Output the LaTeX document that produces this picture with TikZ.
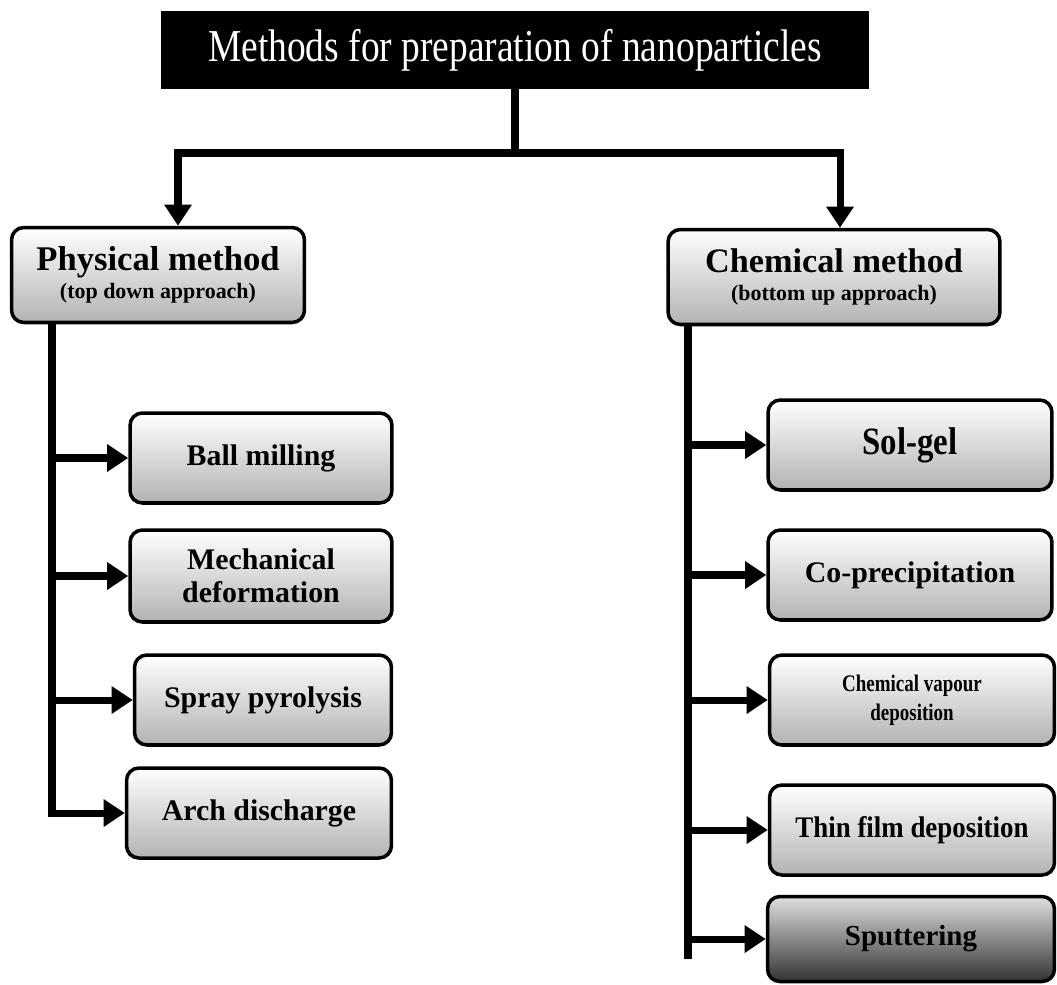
\documentclass[tikz,border=0pt]{standalone}
\usepackage{fontspec}
\setmainfont{Liberation Serif}
\usetikzlibrary{arrows.meta}
\newcommand\hsq[2]{\scalebox{#1}[1]{#2}}
\begin{document}
\begin{tikzpicture}[x=0.02cm,y=-0.02cm,
  conn/.style={line width=4pt,line cap=rect},
  arr/.style={line width=4pt,-{Triangle[length=12pt,width=15pt]}},
  box/.style={draw,line width=2pt,rounded corners=7pt,top color=white,bottom color=gray!60,
    inner sep=0pt,align=center},
  darkbox/.style={box,top color=gray!25,bottom color=black!80},
  titlebox/.style={draw,line width=2pt,fill=black,text=white,inner sep=0pt}
]
\fill[white] (0,0) rectangle (1057,984);
\useasboundingbox (0,0) rectangle (1057,984);

\node[titlebox,minimum width=14.1cm,minimum height=1.5cm,font=\fontsize{26}{30}\selectfont] (title) at (515,50)
  {\hsq{0.82}{Methods for preparation of nanoparticles}};

\node[box,minimum width=5.86cm,minimum height=1.9cm,font=\bfseries\fontsize{12.5}{16}\selectfont] (phys) at (158,275)
  {{\fontsize{19.7}{16}\selectfont Physical method}\\ (top down approach)};
\node[box,minimum width=6.64cm,minimum height=1.9cm,font=\bfseries\fontsize{12.5}{16}\selectfont] (chem) at (834,277)
  {{\fontsize{19.5}{16}\selectfont Chemical method}\\ (bottom up approach)};

\node[box,minimum width=5.24cm,minimum height=1.8cm,font=\bfseries\fontsize{17}{19}\selectfont] (ball) at (261,458)
  {Ball milling};
\node[box,minimum width=5.24cm,minimum height=1.84cm,font=\bfseries\fontsize{17}{18.5}\selectfont] (mech) at (261,576)
  {Mechanical\\ deformation};
\node[box,minimum width=5.14cm,minimum height=1.8cm,font=\bfseries\fontsize{17}{19}\selectfont] (spray) at (263,700)
  {Spray pyrolysis};
\node[box,minimum width=5.3cm,minimum height=1.8cm,font=\bfseries\fontsize{17}{19}\selectfont] (arch) at (259,813)
  {Arch discharge};

\node[box,minimum width=5.68cm,minimum height=1.8cm,font=\bfseries\fontsize{22}{24}\selectfont] (sol) at (910,445)
  {\hsq{0.85}{Sol-gel}};
\node[box,minimum width=5.68cm,minimum height=1.8cm,font=\bfseries\fontsize{17}{19}\selectfont] (co) at (910,575)
  {Co-precipitation};
\node[box,minimum width=5.7cm,minimum height=1.8cm,font=\bfseries\fontsize{13.5}{16.5}\selectfont] (cvd) at (912,700)
  {\hsq{0.8}{Chemical vapour}\\ \hsq{0.8}{deposition}};
\node[box,minimum width=5.7cm,minimum height=1.8cm,font=\bfseries\fontsize{17}{19}\selectfont] (thin) at (912,830)
  {\hsq{0.9}{Thin film deposition}};
\node[darkbox,minimum width=5.74cm,minimum height=1.7cm,font=\bfseries\fontsize{16.5}{19}\selectfont] (sput) at (911,939)
  {Sputtering};

% top connectors
\coordinate (hl) at (178,153);
\coordinate (hr) at (840,153);
\draw[conn] (title.south) -- (title.south |- hl);
\draw[conn] (hl) -- (hr);
\draw[arr] (hl) -- (hl |- phys.north);
\draw[arr] (hr) -- (hr |- chem.north);

% left trunk
\coordinate (lx) at (52,0);
\draw[conn] (phys.south -| lx) -- (arch.west -| lx);
\foreach \n in {ball,mech,spray,arch}
  \draw[arr] (\n.west -| lx) -- (\n.west);

% right trunk
\coordinate (rx) at (688,0);
\coordinate (rb) at (688,955);
\draw[conn] (chem.south -| rx) -- (rb);
\foreach \n in {sol,co,cvd,thin,sput}
  \draw[arr] (\n.west -| rx) -- (\n.west);
\end{tikzpicture}
\end{document}
